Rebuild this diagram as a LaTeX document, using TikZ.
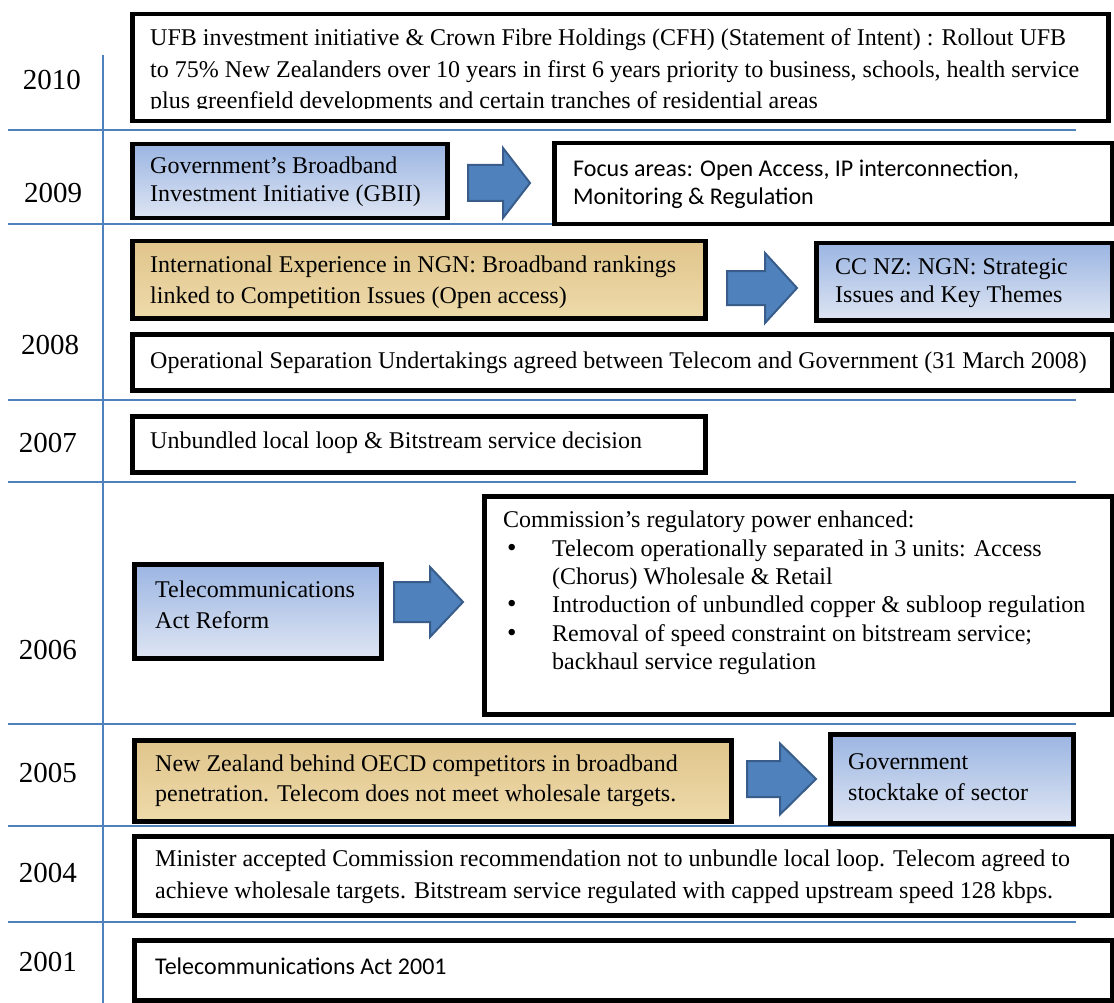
\documentclass[tikz,border=0pt]{standalone}
\usepackage{fontspec}
\setmainfont{Liberation Serif}
\newfontfamily\calibrifont{Carlito}
\definecolor{lineblue}{RGB}{79,129,189}
\definecolor{arrowfill}{RGB}{79,129,189}
\definecolor{arrowedge}{RGB}{56,93,138}
\definecolor{bluetop}{RGB}{155,181,226}
\definecolor{bluebot}{RGB}{222,229,243}
\definecolor{papyrustop}{RGB}{224,197,140}
\definecolor{papyrusbot}{RGB}{238,218,170}
\newcommand{\bul}{\makebox[49pt][l]{\hspace{4pt}\fontsize{27}{27}\selectfont\textbullet}}
% block arrow: name, x, y(centre), shaft length, shaft half-width, head length, head half-width
\newcommand{\barrow}[7]{\coordinate (#1) at (#2,#3);
  \draw[arrowstyle] (#1) ++(0,-#5) -- ++(#4,0) -- ++(0,{-(#7-#5)}) -- ++(#6,#7) -- ++(-#6,#7) -- ++(0,{-(#7-#5)}) -- ++(-#4,0) -- cycle;}
\tikzset{
  plainbox/.style={draw=black, line width=4.5pt, fill=white, rectangle, anchor=north west, inner sep=0pt},
  bluebox/.style={plainbox, top color=bluetop, bottom color=bluebot},
  papbox/.style={plainbox, top color=papyrustop, bottom color=papyrusbot},
  seriftext/.style={font=\fontsize{24}{#1}\selectfont, anchor=west, align=left, inner sep=0pt},
  seriftext/.default=31,
  sanstext/.style={font=\calibrifont\fontsize{24}{#1}\selectfont, anchor=west, align=left, inner sep=0pt},
  sanstext/.default=28,
  yearlabel/.style={font=\fontsize{29}{34}\selectfont, inner sep=0pt},
  arrowstyle/.style={fill=arrowfill, draw=arrowedge, line width=2pt, line join=miter},
  timeline/.style={draw=lineblue, line width=1.5pt}
}
\begin{document}
\begin{tikzpicture}[x=1pt,y=-1pt]
\useasboundingbox (0,0) rectangle (1114,1003);
\fill[white] (0,0) rectangle (1114,1003);
% grid lines
\draw[timeline] (103,55) -- (103,1003);
\foreach \yy in {130,224,400,482,724,826,922} \draw[timeline] (8,\yy) -- (1076,\yy);
% years
\node[yearlabel] (y2010) at (52,80) {2010};
\node[yearlabel] (y2009) at (53,193) {2009};
\node[yearlabel] (y2008) at (50,345) {2008};
\node[yearlabel] (y2007) at (48,443) {2007};
\node[yearlabel] (y2006) at (48,650) {2006};
\node[yearlabel] (y2005) at (48,773) {2005};
\node[yearlabel] (y2004) at (48,873) {2004};
\node[yearlabel] (y2001) at (48,962) {2001};
% 2010
\node[plainbox, minimum width=976pt, minimum height=107pt] (b2010) at (130,12) {};
\begin{scope}
\clip (133,15) rectangle (1103,109);
\node[seriftext=31.5, anchor=north west] (t2010) at (150,28.5) {UFB investment initiative \& Crown Fibre Holdings (CFH) (Statement of Intent) : Rollout UFB\\to 75\% New Zealanders over 10 years in first 6 years priority to business, schools, health service\\plus greenfield developments and certain tranches of residential areas};
\end{scope}
% 2009
\node[bluebox, minimum width=315pt, minimum height=74pt] (bgbii) at (130,142) {};
\node[seriftext=28] (tgbii) at (150,182) {Government’s Broadband\\Investment Initiative (GBII)};
\node[plainbox, minimum width=558pt, minimum height=81pt] (bfocus) at (552,141) {};
\node[sanstext=28] (tfocus) at (573,184) {Focus areas: Open Access, IP interconnection,\\Monitoring \& Regulation};
\barrow{a09}{468}{183}{35}{18}{27}{35}
% 2008
\node[papbox, minimum width=573pt, minimum height=77pt] (bintl) at (130,239) {};
\node[seriftext=31] (tintl) at (150,282.5) {International Experience in NGN: Broadband rankings\\linked to Competition Issues (Open access)};
\node[bluebox, minimum width=296pt, minimum height=77pt] (bccnz) at (814,241) {};
\node[seriftext=28] (tccnz) at (835,283) {CC NZ: NGN: Strategic\\Issues and Key Themes};
\barrow{a08}{727}{288}{38}{17}{32}{35}
\node[plainbox, minimum width=980pt, minimum height=56pt] (bopsep) at (130,332) {};
\node[seriftext] (topsep) at (150,363) {Operational Separation Undertakings agreed between Telecom and Government (31 March 2008)};
% 2007
\node[plainbox, minimum width=573pt, minimum height=56pt] (bull) at (130,414) {};
\node[seriftext] (tull) at (150,443) {Unbundled local loop \& Bitstream service decision};
% 2006
\node[bluebox, minimum width=247pt, minimum height=94pt] (btar) at (132,562) {};
\node[seriftext=31] (ttar) at (155,605) {Telecommunications\\Act Reform};
\barrow{a06}{394}{602}{36}{20}{33}{35}
\node[plainbox, minimum width=628pt, minimum height=218pt] (bcomm) at (482,494) {};
\node[seriftext=28.4] (tcomm) at (503,593) {Commission’s regulatory power enhanced:\\
\bul Telecom operationally separated in 3 units: Access\\
\makebox[49pt][l]{}(Chorus) Wholesale \& Retail\\
\bul Introduction of unbundled copper \& subloop regulation\\
\bul Removal of speed constraint on bitstream service;\\
\makebox[49pt][l]{}backhaul service regulation};
% 2005
\node[papbox, minimum width=597pt, minimum height=81pt] (bnzb) at (132,738) {};
\node[seriftext=30] (tnzb) at (155,781) {New Zealand behind OECD competitors in broadband\\penetration. Telecom does not meet wholesale targets.};
\barrow{a05}{747}{779}{33}{18}{36}{35.5}
\node[bluebox, minimum width=243pt, minimum height=89pt] (bgst) at (828,732) {};
\node[seriftext=31] (tgst) at (848,777) {Government\\stocktake of sector};
% 2004
\node[plainbox, minimum width=978pt, minimum height=79pt] (bmin) at (132,834) {};
\node[seriftext=32] (tmin) at (155,877) {Minister accepted Commission recommendation not to unbundle local loop. Telecom agreed to\\achieve wholesale targets. Bitstream service regulated with capped upstream speed 128 kbps.};
% 2001
\node[plainbox, minimum width=978pt, minimum height=60pt] (bta01) at (132,938) {};
\node[sanstext] (tta01) at (155,966) {Telecommunications Act 2001};
\end{tikzpicture}
\end{document}
